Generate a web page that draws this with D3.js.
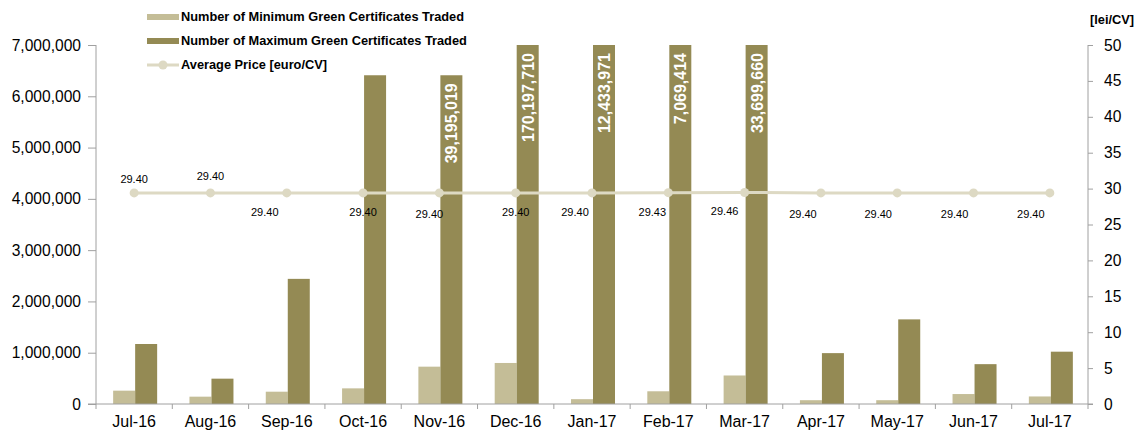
<!DOCTYPE html>
<html>
<head>
<meta charset="utf-8">
<script src="https://cdn.jsdelivr.net/npm/d3@7"></script>
<style>
  body { margin: 0; background: #fff; }
  text { font-family: "Liberation Sans", Arial, sans-serif; }
</style>
</head>
<body>
<div id="chart"></div>
<script>
// data
const months = ["Jul-16","Aug-16","Sep-16","Oct-16","Nov-16","Dec-16","Jan-17","Feb-17","Mar-17","Apr-17","May-17","Jun-17","Jul-17"];
const minTraded = [260000, 143000, 240000, 305000, 728000, 800000, 94000, 248000, 556000, 74000, 74000, 194000, 147000];
const maxTraded = [1170000, 494000, 2440000, 6410000, 6410000, 170197710, 12433971, 7069414, 33699660, 992000, 1650000, 777000, 1020000];
// values printed inside the bars that run past the axis
const barLabels = [null, null, null, null, 39195019, 170197710, 12433971, 7069414, 33699660, null, null, null, null];
const avgPrice = [29.40, 29.40, 29.40, 29.40, 29.40, 29.40, 29.40, 29.43, 29.46, 29.40, 29.40, 29.40, 29.40];
const leftTicks = [0, 1000000, 2000000, 3000000, 4000000, 5000000, 6000000, 7000000];
const rightTicks = [0, 5, 10, 15, 20, 25, 30, 35, 40, 45, 50];

// where each price label sits relative to its point
const labelDx = [0, 0, -22, 0, -10, 0, -17, -16, -20, -18, -19, -19, -19];
const labelDy = [-14, -17, 19, 19, 21, 19, 19, 19, 19, 21, 21, 21, 21];

const W = 1143, H = 434;
const margin = {top: 45, right: 55, bottom: 30, left: 96},
width = W - margin.left - margin.right,
height = H - margin.top - margin.bottom;

const colMin = "#C4BD97", colMax = "#948A54", colLine = "#DDD9C3", axisCol = "#A0A0A0";

const svg = d3.select("#chart")
.append("svg")
.attr("width", W)
.attr("height", H);

const g = svg.append("g")
.attr("transform", `translate(${margin.left}, ${margin.top})`);

const x = d3.scaleBand()
.domain(months)
.range([0, width]);

const y = d3.scaleLinear()
.domain([0, 7000000])
.range([height, 0]);

const y2 = d3.scaleLinear()
.domain([0, 50])
.range([height, 0]);

const barW = 22;

// bars (clamped to the top of the plot)
g.selectAll(".barMin")
.data(minTraded)
.join("rect")
.attr("x", (d, i) => x(months[i]) + x.bandwidth() / 2 - barW + 1)
.attr("y", d => y(Math.min(d, 7000000)))
.attr("width", barW)
.attr("height", d => height - y(Math.min(d, 7000000)))
.attr("fill", colMin);

g.selectAll(".barMax")
.data(maxTraded)
.join("rect")
.attr("x", (d, i) => x(months[i]) + x.bandwidth() / 2 + 1)
.attr("y", d => y(Math.min(d, 7000000)))
.attr("width", barW)
.attr("height", d => height - y(Math.min(d, 7000000)))
.attr("fill", colMax);

// labels inside the tall bars
const fmt = d3.format(",");
g.selectAll(".barLab")
.data(barLabels.map((v, i) => ({v, i})).filter(d => d.v !== null))
.join("text")
.attr("transform", d => {
  const cx = x(months[d.i]) + x.bandwidth() / 2 + barW / 2 + 7;
  const top = y(Math.min(maxTraded[d.i], 7000000)) + 8;
  return `translate(${cx}, ${top}) rotate(-90)`;
})
.attr("text-anchor", "end")
.attr("fill", "#fff")
.style("font-size", "16px")
.style("font-weight", "bold")
.text(d => fmt(d.v));

// axes
const xAxis = g.append("g")
.attr("transform", `translate(0, ${height})`)
.call(d3.axisBottom(x).tickSize(0).tickPadding(12));
xAxis.select(".domain").remove();
xAxis.selectAll("text").style("font-size", "16px").attr("fill", "#000");

g.append("line")
.attr("x1", -8).attr("x2", width + 5)
.attr("y1", height).attr("y2", height)
.attr("stroke", axisCol);

// category boundary ticks
g.selectAll(".catTick")
.data(months.concat(["end"]))
.join("line")
.attr("x1", (d, i) => i * x.bandwidth())
.attr("x2", (d, i) => i * x.bandwidth())
.attr("y1", height).attr("y2", height + 5)
.attr("stroke", axisCol);

const yAxis = g.append("g")
.call(d3.axisLeft(y).tickValues(leftTicks).tickFormat(d3.format(",")).tickSize(8).tickPadding(7));
yAxis.select(".domain").attr("stroke", axisCol).attr("d", `M0,0V${height}`);
yAxis.selectAll(".tick line").attr("stroke", axisCol);
yAxis.selectAll("text").style("font-size", "15.6px").attr("fill", "#000");

const y2Axis = g.append("g")
.attr("transform", `translate(${width}, 0)`)
.call(d3.axisRight(y2).tickValues(rightTicks).tickSize(5).tickPadding(11));
y2Axis.select(".domain").attr("stroke", axisCol).attr("d", `M0,0V${height}`);
y2Axis.selectAll(".tick line").attr("stroke", axisCol);
y2Axis.selectAll("text").style("font-size", "15.6px").attr("fill", "#000");

svg.append("text")
.attr("x", 1090)
.attr("y", 24)
.style("font-size", "12.8px")
.style("font-weight", "bold")
.text("[lei/CV]");

// price line
const line = d3.line()
.x((d, i) => x(months[i]) + x.bandwidth() / 2)
.y(d => y2(d));

g.append("path")
.datum(avgPrice)
.attr("d", line)
.attr("fill", "none")
.attr("stroke", colLine)
.attr("stroke-width", 3);

g.selectAll(".pt")
.data(avgPrice)
.join("circle")
.attr("cx", (d, i) => x(months[i]) + x.bandwidth() / 2)
.attr("cy", d => y2(d))
.attr("r", 4.5)
.attr("fill", colLine);

g.selectAll(".ptLab")
.data(avgPrice)
.join("text")
.attr("x", (d, i) => x(months[i]) + x.bandwidth() / 2 + labelDx[i])
.attr("y", (d, i) => y2(d) + labelDy[i])
.attr("dy", "0.35em")
.attr("text-anchor", "middle")
.style("font-size", "11px")
.text(d => d.toFixed(2));

// legend
const legend = svg.append("g").attr("transform", "translate(147, 0)");
const items = [
  {name: "Number of Minimum Green Certificates Traded", type: "bar", color: colMin},
  {name: "Number of Maximum Green Certificates Traded", type: "bar", color: colMax},
  {name: "Average Price [euro/CV]", type: "line", color: colLine}
];
items.forEach((it, i) => {
  const cy = 17 + i * 24;
  if (it.type === "bar") {
    legend.append("rect")
    .attr("x", 0).attr("y", cy - 3)
    .attr("width", 32).attr("height", 6)
    .attr("fill", it.color);
  } else {
    legend.append("line")
    .attr("x1", 0).attr("x2", 32)
    .attr("y1", cy).attr("y2", cy)
    .attr("stroke", it.color).attr("stroke-width", 3);
    legend.append("circle")
    .attr("cx", 16).attr("cy", cy).attr("r", 4.5)
    .attr("fill", it.color);
  }
  legend.append("text")
  .attr("x", 34)
  .attr("y", cy)
  .attr("dy", "0.35em")
  .style("font-size", "12.8px")
  .style("font-weight", "bold")
  .text(it.name);
});
</script>
</body>
</html>
